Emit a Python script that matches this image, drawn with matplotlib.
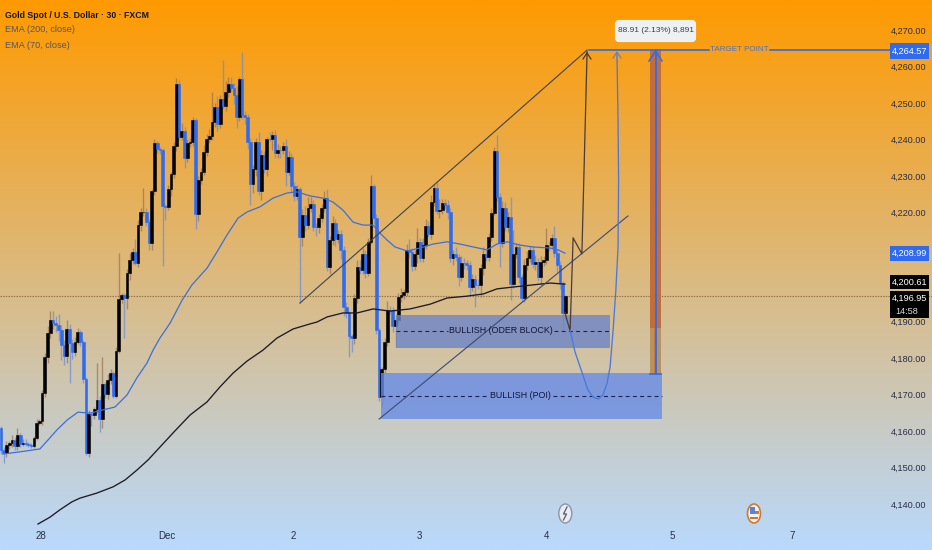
import matplotlib
matplotlib.use("Agg")
import matplotlib.pyplot as plt
import numpy as np
from matplotlib.colors import LinearSegmentedColormap
from matplotlib.patches import Rectangle, FancyBboxPatch, Ellipse
from matplotlib.transforms import Affine2D

plt.rcParams['font.family'] = ['Liberation Sans', 'DejaVu Sans']

W, H = 932, 550
first_open = 4160.9
closes = [
 4154.8,4154.0,4156.2,4156.7,4157.5,4155.9,4158.9,4156.5,4156.7,4156.5,
 4156.2,4155.9,4158.1,4162.2,4162.8,4170.4,4180.3,4186.9,4190.5,4189.6,
 4189.1,4187.7,4183.6,4180.6,4188.0,4184.2,4181.7,4184.4,4187.2,4184.4,
 4174.3,4154.0,4164.7,4164.4,4166.0,4168.5,4163.3,4172.9,4170.2,4174.0,
 4175.9,4169.6,4182.0,4196.2,4197.3,4196.5,4203.4,4206.9,4209.1,4206.1,
 4216.5,4220.1,4220.2,4217.3,4211.6,4225.8,4239.0,4237.4,4237.1,4221.7,
 4221.5,4226.4,4230.5,4238.2,4255.2,4240.7,4242.3,4234.9,4239.0,4239.3,
 4245.3,4219.5,4228.9,4231.1,4236.5,4240.1,4240.9,4244.8,4248.9,4244.2,
 4251.1,4249.2,4253.0,4255.2,4254.1,4252.2,4246.1,4256.6,4246.7,4246.1,
 4239.3,4227.8,4231.9,4239.3,4225.8,4235.7,4231.9,4240.1,4240.0,4241.2,
 4236.3,4237.1,4237.0,4238.2,4231.1,4235.2,4227.2,4224.5,4226.4,4213.2,
 4219.3,4216.5,4221.2,4222.3,4216.0,4215.9,4218.4,4221.2,4223.9,4205.0,
 4212.4,4217.1,4212.7,4214.1,4209.7,4194.0,4192.4,4186.1,4185.5,4196.5,
 4205.0,4204.2,4208.6,4203.4,4211.9,4227.2,4218.4,4187.7,4169.3,4177.0,
 4184.4,4193.2,4193.1,4188.8,4190.5,4196.8,4197.3,4198.1,4209.7,4209.1,
 4205.3,4208.6,4211.9,4207.5,4211.0,4216.2,4214.1,4222.8,4226.7,4220.4,
 4220.6,4222.6,4222.0,4220.1,4207.5,4208.6,4207.7,4202.2,4206.1,4206.0,
 4205.6,4199.5,4201.7,4200.1,4200.0,4204.7,4208.6,4207.7,4213.2,4219.8,
 4236.8,4224.2,4211.6,4221.2,4216.0,4218.7,4200.3,4208.6,4210.5,4202.2,
 4196.5,4205.6,4207.5,4209.7,4205.8,4206.4,4202.2,4206.4,4206.9,4211.0,
 4210.9,4213.0,4208.8,4205.6,4200.6,4192.4,4196.95]
upper_wick = [
 .5,.8,1,.5,1.5,1,2,.5,1,1,
 .5,.5,.5,1,.5,1,1,2,2.5,2.5,
 2,3,1.5,1.5,2.5,1.5,1,1.5,1,.5,
 .5,.5,1,.5,.5,10.1,1,7.4,.5,1.6,
 1,.5,1,12.6,.5,.5,1,2,1,3.5,
 1.5,1,6.6,1,1,.5,1,.5,.5,.5,
 .5,1,.5,1,1.5,1,2.1,1,1,1,
 .8,.5,1,1,2,1.5,2,8.2,1,3,
 1,10.7,3,2,2,1.5,2.5,.5,7.4,1,
 1,1,1,1,2.7,1.5,1,.5,2,1,
 1.5,1.5,1,1,2,1.5,1,1,1,.5,
 1.5,2.5,3,2,1,1,1,1,2,2.5,
 1,2,1,1,1,1,1.5,.5,.5,1,
 2,2,1.5,1,1,3,.5,1,.5,.5,
 1,2.5,1,1,1,1,2,1,1.5,3,
 1,1,3.8,1,2,2,1.5,2,1,1.6,
 3,1,1,1.5,1,1,2,1,2,1.5,
 1,1,1.5,1,1.5,1,2,1.5,1,1.5,
 1.1,4.4,1,2,1.5,1.5,5.5,6.6,1,1,
 1,1.5,2,1,1,2,1,1.5,1,4.6,
 1,1,3.3,1,1,.5,.5]
lower_wick = [
 1,2.7,1,1,1,1,1,1,.5,.5,
 .5,.5,.5,.5,.5,1,1,1.5,1.5,1.5,
 2,3,4,2.5,2,11,2,1,.5,1,
 1,.5,1,3,1,1,3.5,2.5,1,1.5,
 1,.5,.5,.5,1,11,3,2,1,.5,
 1,1.5,1,1,2,2,1,1,1,16.5,
 3.5,1,2,1,1.5,1,1,2.7,1,1,
 1,4.1,2,1,1,1,1,1,1.5,2,
 1,1,1.5,1.5,1,2.5,3,1,1,2,
 2,5.8,2.5,2,1,2.5,1,2,.5,3,
 1.5,1.5,2,1,4,1,1.5,1.5,1,18.1,
 2.5,1.5,1,1,1,2.5,1.5,1,1,1,
 2,1.5,2,1,2.5,2.5,1.5,5.8,3.9,1.5,
 1.5,1,1,1.5,1,.5,1.5,1,1,2.7,
 1,1,1,1.5,5.8,1,1.5,1,1,1.5,
 1.5,1,2.5,1,1,1,1,1.5,1,1,
 2,1,1,2,1,2,1,2.5,1,1.5,
 1.5,2.2,1,6,1,3.3,2,1,1,1,
 .5,1,6.6,1,1,1.5,4.4,1,1,1.5,
 1,1,1.5,1,1,1.5,1,2,1,1,
 1.5,1,1,2,1.5,4.7,1.9]

ema70_idx = [.7,6.9,14.2,17.2,20.4,24.1,28.1,32.5,37.2,41.6,46,49.6,53.3,55.5,58,61.7,66.1,69.7,75.2,78.8,82.5,86.5,89.8,94.5,99.3,104.4,108,112.8,117.5,121.2,124.8,128.5,132.1,135.8,138.3,140.9,143.8,148.2,152.9,157.7,162.8,167.5,172.3,177.4,181,184.7,189.4,194.2,200.4,203.3,205.8]
ema70_val = [4153.7,4154.3,4155.1,4157.6,4160.3,4163.0,4165.2,4164.9,4165.8,4166.6,4169.9,4174.6,4178.7,4182.2,4185.5,4189.6,4195.9,4200.1,4204.7,4209.1,4213.8,4218.4,4220.1,4221.5,4223.9,4225.3,4225.6,4224.5,4223.9,4222.8,4220.6,4217.3,4216.5,4216.5,4214.3,4212.4,4210.5,4209.4,4210.2,4211.3,4211.9,4211.3,4210.5,4209.7,4211.3,4211.9,4211.0,4210.5,4210.2,4209.7,4208.8]
ema200_idx = [13.5,17.9,21.5,25.9,28.8,35,40.9,45.3,49.6,53.7,58,62.8,69,75.2,79.9,84.7,89.8,95.6,100.7,106.6,112.8,115.3,119,124.8,130,135.8,142,149.3,156.6,162.8,170,176,181,186.9,194.2,200.4,205.8]
ema200_val = [4134.5,4136.4,4138.4,4140.6,4141.6,4143.0,4144.7,4146.6,4149.3,4152.1,4155.6,4159.5,4164.4,4168.0,4172.1,4175.9,4179.2,4182.2,4185.5,4188.0,4189.4,4189.9,4191.3,4192.4,4192.4,4193.5,4192.9,4193.5,4194.8,4196.5,4197.0,4197.6,4199.0,4199.5,4200.1,4200.6,4200.3]

channel_up_idx, channel_up_val = [109.1, 213.9], [4195.1, 4264.5]
channel_lo_idx, channel_lo_val = [138, 228.8], [4163.3, 4219.0]
path_idx = [205.8, 207.7, 208.8, 212, 213.9]
path_val = [4192.6, 4187.4, 4213.0, 4208.6, 4264.0]
curve_idx = [207.7,209.5,212,214.2,216.1,217.9,219.7,221.2,222.3,223.4,224.4,225.2,225.4,225.2,224.8]
curve_val = [4187.7,4181.7,4176.2,4171.3,4169.3,4168.8,4169.9,4173.2,4177.6,4187.7,4198.7,4210.5,4228.9,4245.3,4263.7]

target_price = 4264.57
ema200_last, ema70_last, last_close = 4200.61, 4208.99, 4196.95
y_ticks = list(range(4140, 4280, 10))
y_hidden = [4200, 4210]
x_tick_pos = [14.6, 60.6, 106.6, 152.6, 199, 245, 288.7]
x_tick_lab = ['28', 'Dec', '2', '3', '4', '5', '7']

BAR_PX = 2.74
def ix(px): return (px - 1) / BAR_PX
PRICE0, PPP = 4278.23, 0.27427

fig = plt.figure(figsize=(W/100, H/100), dpi=100)
ax = fig.add_axes([0, 0, 1, 1])
ax.set_xlim(ix(0), ix(W))
ax.set_ylim(PRICE0 - PPP*H, PRICE0)
pix = Affine2D().scale(1/W, -1/H).translate(0, 1) + ax.transAxes

cmap = LinearSegmentedColormap.from_list('bg', ['#ff9a00', '#b9d9fd'])
ax.imshow(np.linspace(0, 1, 256).reshape(-1, 1), cmap=cmap, aspect='auto', zorder=0,
          extent=[ix(0), ix(W), PRICE0 - PPP*H, PRICE0])
ax.set_autoscale_on(False)
for s in ax.spines.values():
    s.set_visible(False)
ax.set_axisbelow(True)

TXT = '#2a2e45'
ax.yaxis.tick_right()
ax.set_yticks(y_ticks)
ax.set_yticklabels(['' if v in y_hidden else f'{v:,.2f}' for v in y_ticks],
                   fontsize=6.6, color=TXT, ha='right')
ax.tick_params(axis='y', length=0, pad=-4)
ax.set_xticks(x_tick_pos)
ax.set_xticklabels(x_tick_lab, fontsize=7, color=TXT)
ax.tick_params(axis='x', length=0, pad=-14)

# candles
c = np.array(closes)
o = np.array([first_open] + closes[:-1])
idx = np.arange(len(c))
up = c >= o
hi = np.maximum(o, c) + np.array(upper_wick)
lo = np.minimum(o, c) - np.array(lower_wick)
ax.vlines(idx[up], lo[up], hi[up], color='#9a7450', lw=1.0, alpha=0.7, zorder=2)
ax.vlines(idx[~up], lo[~up], hi[~up], color='#6a8bd8', lw=1.0, alpha=0.7, zorder=2)
body_col = np.where(up, '#000000', '#2f6bef')
ax.bar(idx, np.abs(c - o), bottom=np.minimum(o, c), width=1.0, color=body_col,
       edgecolor=body_col, linewidth=0.4, zorder=2.2)

# last price line
ax.axhline(last_close, color='#8f6d42', lw=0.8, ls=(0, (1.2, 1.2)), zorder=1.5)

# EMAs
ax.plot(ema70_idx, ema70_val, color='#3a6fe2', lw=0.9, zorder=3)
ax.plot(ema200_idx, ema200_val, color='#1c1a26', lw=0.95, zorder=3)

# zones
ax.add_patch(Rectangle((ix(396), 4182.8), ix(609.5)-ix(396), 4191.8-4182.8,
                       fc='#6c85c9', alpha=0.8, ec='none', zorder=3.2))
ax.add_patch(Rectangle((ix(381), 4163.3), ix(662)-ix(381), 4175.9-4163.3,
                       fc='#698ce7', alpha=0.8, ec='none', zorder=3.2))
DASH = dict(color='#1b2452', lw=0.8, ls=(0, (3.5, 3)), zorder=3.4)
ax.plot([ix(396), ix(448)], [4187.5, 4187.5], **DASH)
ax.plot([ix(554), ix(609)], [4187.5, 4187.5], **DASH)
ax.plot([ix(381), ix(487)], [4169.6, 4169.6], **DASH)
ax.plot([ix(553), ix(662)], [4169.6, 4169.6], **DASH)
ax.text(ix(501), 4187.7, 'BULLISH (ODER BLOCK)', fontsize=6.4, color='#10163a',
        ha='center', va='center', zorder=5)
ax.text(ix(520), 4169.8, 'BULLISH (POI)', fontsize=6.4, color='#10163a',
        ha='center', va='center', zorder=5)

# channel and projected paths
ax.plot(channel_up_idx, channel_up_val, color='#3c4350', lw=0.8, zorder=3.6)
ax.plot(channel_lo_idx, channel_lo_val, color='#3c4a70', lw=0.8, zorder=3.6)
ax.plot(path_idx, path_val, color='#4a3a38', lw=0.9, zorder=3.7)
ax.plot(curve_idx, curve_val, color='#4c78dc', lw=0.95, zorder=3.7)

# measured move bar
bar_x0, bar_x1 = ix(650), ix(661)
ax.add_patch(Rectangle((bar_x0, 4175.7), bar_x1-bar_x0, target_price-4175.7,
                       fc='#c06f3c', ec='none', zorder=3.5))
ax.add_patch(Rectangle((bar_x0, 4175.7), bar_x1-bar_x0, 4188.3-4175.7,
                       fc='#b8935f', ec='none', zorder=3.55))
ax.add_patch(Rectangle((ix(654), 4175.7), ix(657)-ix(654), 4188.3-4175.7,
                       fc='#bd7a47', ec='none', zorder=3.56))
xm = ix(655.5)
ax.plot([xm, xm], [4175.7, target_price], color='#2f6bef', lw=1.3, zorder=3.8)
ax.plot([bar_x0, bar_x1], [4175.7, 4175.7], color='#2f6bef', lw=1.2, zorder=3.8)

# target line
BL = '#2f6bef'
ax.plot([ix(589), ix(709)], [target_price]*2, color=BL, lw=1.2, zorder=3.8)
ax.plot([ix(770), ix(890)], [target_price]*2, color=BL, lw=1.2, zorder=3.8)
ax.text(ix(739.5), target_price, 'TARGET POINT', fontsize=5.8, color='#4a70cc',
        ha='center', va='center', zorder=5)

# arrow heads
ax.plot([583, 587, 591], [59, 53, 59], color='#33303a', lw=0.8, transform=pix, zorder=4)
ax.plot([613, 617, 621], [58, 52, 58], color='#5f7fc4', lw=0.8, transform=pix, zorder=4)
ax.plot([649, 655.5, 662], [61, 51, 61], color=BL, lw=1.1, transform=pix, zorder=4)

# measure tag
ax.add_patch(FancyBboxPatch((617, 22), 77, 18, boxstyle='round,pad=0,rounding_size=2',
                            fc='#eef1f3', ec='#eef1f3', lw=3, transform=pix, zorder=5))
ax.text(655.5, 31, '88.91 (2.13%) 8,891', fontsize=6.0, color='#3a3d48', ha='center', va='center',
        transform=pix, zorder=6)

# price tags
def tag(x0, y0, x1, y1, col):
    ax.add_patch(Rectangle((x0, y0), x1-x0, y1-y0, fc=col, ec='none', transform=pix, zorder=5))
FS = 6.6
tag(890, 43, 929, 59, BL)
ax.text(909.5, 51, f'{target_price:,.2f}', fontsize=FS, color='white', ha='center', va='center', transform=pix, zorder=6)
tag(890, 246, 929, 261, BL)
ax.text(909.5, 253.5, f'{ema70_last:,.2f}', fontsize=FS, color='white', ha='center', va='center', transform=pix, zorder=6)
tag(890, 275, 929, 289, '#000000')
ax.text(909.5, 282, f'{ema200_last:,.2f}', fontsize=FS, color='white', ha='center', va='center', transform=pix, zorder=6)
tag(890, 291, 929, 318, '#000000')
ax.text(909.5, 298, f'{last_close:,.2f}', fontsize=FS, color='white', ha='center', va='center', transform=pix, zorder=6)
ax.text(895, 311, '14:58', fontsize=FS, color='#d8d8d8', ha='left', va='center', transform=pix, zorder=6)

# legend
ax.text(5, 15, 'Gold Spot / U.S. Dollar · 30 · FXCM', fontsize=6.3, color='#131722', fontweight='bold',
        ha='left', va='center', transform=pix, zorder=6)
ax.text(5, 30, 'EMA (200, close)', fontsize=6.6, color='#55555e', ha='left', va='center', transform=pix, zorder=6)
ax.text(5, 45, 'EMA (70, close)', fontsize=6.6, color='#55555e', ha='left', va='center', transform=pix, zorder=6)

# event icons
ax.add_patch(Ellipse((565.3, 513.5), 13, 19, fc='#e9edf2', ec='#8d93a8', lw=1, transform=pix, zorder=5))
ax.plot([567, 563.5, 566.5, 563.5], [507, 514, 514, 520], color='#555a70', lw=0.9, transform=pix, zorder=6)
ax.add_patch(Ellipse((754, 513.5), 13, 19, fc='#f4f2ee', ec='#cf7a33', lw=1.2, transform=pix, zorder=5))
ax.add_patch(Rectangle((750, 507), 5, 7, fc='#5a82dc', ec='none', transform=pix, zorder=6))
ax.add_patch(Rectangle((755, 511), 4, 3, fc='#c7763f', ec='none', transform=pix, zorder=6))
ax.add_patch(Rectangle((750, 517), 8, 2, fc='#c7763f', ec='none', transform=pix, zorder=6))

fig.savefig('out.png', dpi=100)
